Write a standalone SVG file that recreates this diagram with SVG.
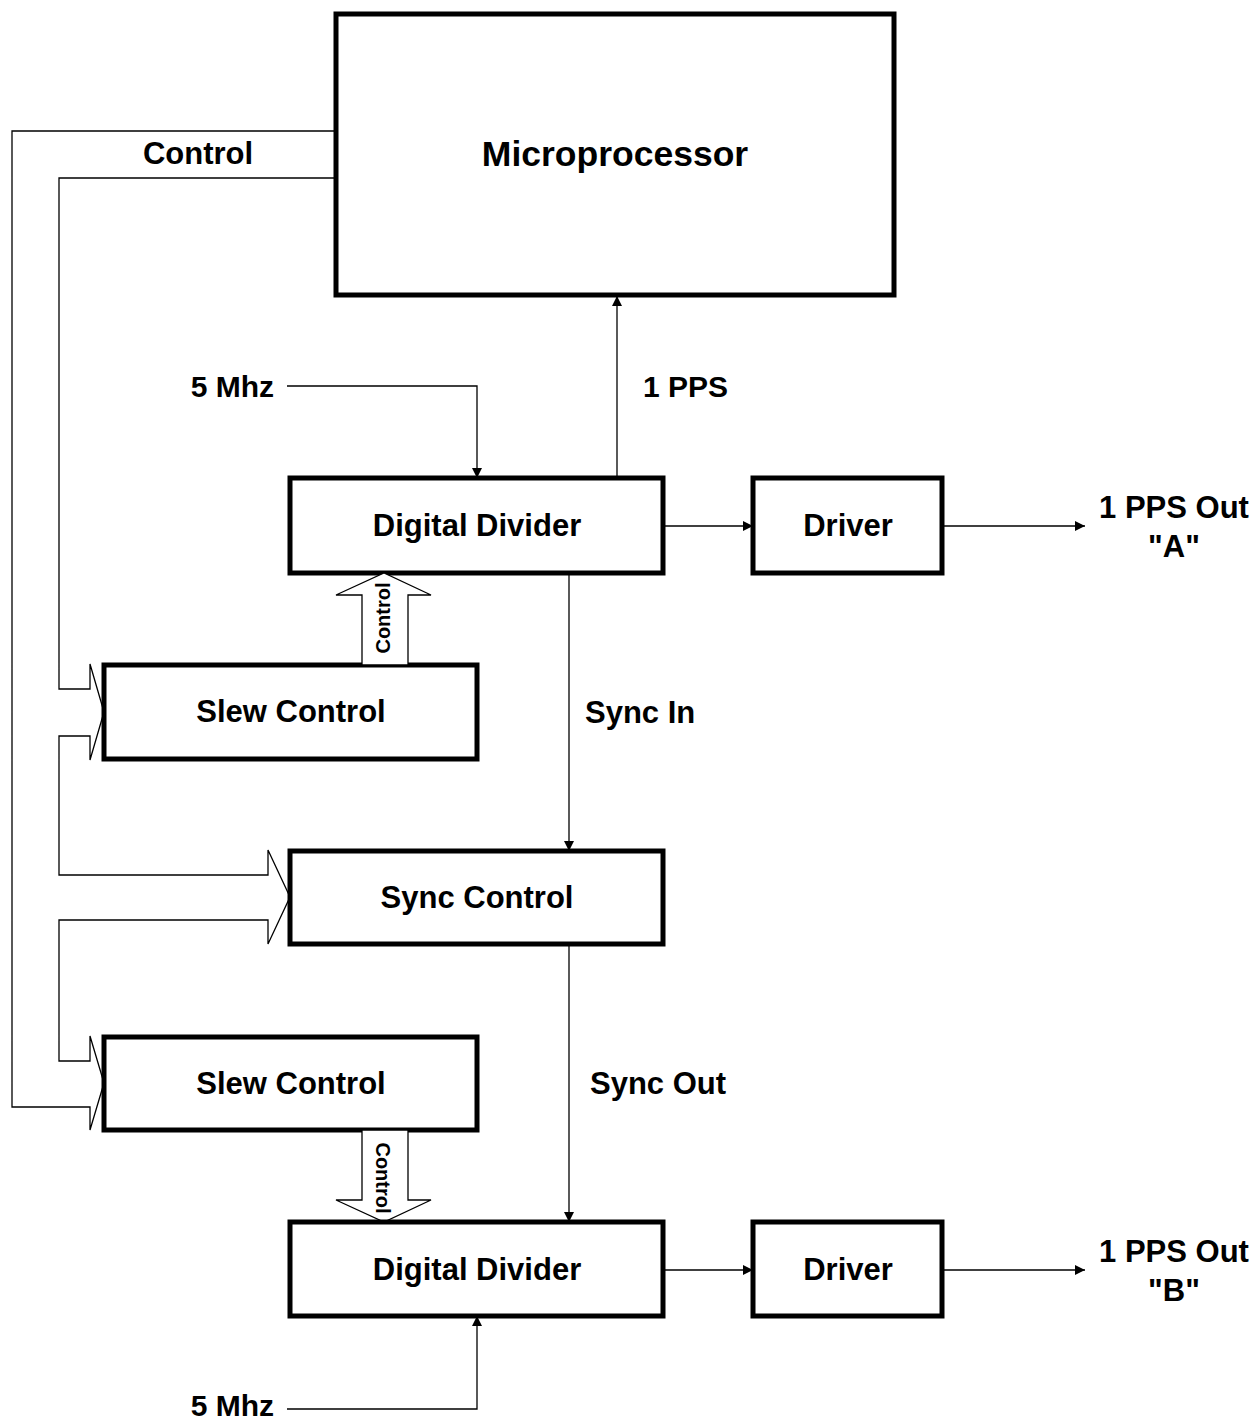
<svg xmlns="http://www.w3.org/2000/svg" width="1254" height="1422" viewBox="0 0 1254 1422">
<defs>
<style>
.box{fill:#fff;stroke:#000;stroke-width:5}
.ln{fill:none;stroke:#000;stroke-width:1.3}
.hol{fill:#fff;stroke:#000;stroke-width:1.3;stroke-linejoin:miter}
text{font-family:"Liberation Sans",Arial,sans-serif;font-weight:bold;fill:#000}
.lbl{font-size:31px}
.sm{font-size:30px}
.c{text-anchor:middle}
.r{text-anchor:end}
</style>
<marker id="ah" viewBox="0 0 10 10" refX="10" refY="5" markerWidth="10" markerHeight="10" markerUnits="userSpaceOnUse" orient="auto">
<path d="M0,0 L10,5 L0,10 Z" fill="#000"/>
</marker>
</defs>
<g id="connectors">
<polyline class="ln" points="335,178 59,178 59,689 90,689 90,664 104,712 90,760 90,736 59,736 59,875 268,875 268,850 290,897 268,944 268,920 59,920 59,1061 90,1061 90,1036 104,1083 90,1130 90,1107 12,1107 12,131 335,131"/>
<polyline class="ln" points="287,386 477,386 477,478" marker-end="url(#ah)"/>
<line class="ln" x1="617" y1="478" x2="617" y2="296" marker-end="url(#ah)"/>
<line class="ln" x1="663" y1="526" x2="753" y2="526" marker-end="url(#ah)"/>
<line class="ln" x1="942" y1="526" x2="1085" y2="526" marker-end="url(#ah)"/>
<line class="ln" x1="569" y1="573" x2="569" y2="851" marker-end="url(#ah)"/>
<line class="ln" x1="569" y1="944" x2="569" y2="1222" marker-end="url(#ah)"/>
<line class="ln" x1="663" y1="1270" x2="753" y2="1270" marker-end="url(#ah)"/>
<line class="ln" x1="942" y1="1270" x2="1085" y2="1270" marker-end="url(#ah)"/>
<polyline class="ln" points="287,1409 477,1409 477,1316" marker-end="url(#ah)"/>
</g>
<g id="microprocessor">
<rect class="box" x="336" y="14" width="558" height="281"/>
<text class="c" x="615" y="166" font-size="35.5">Microprocessor</text>
</g>
<g id="digital-divider-1">
<rect class="box" x="290" y="478" width="373" height="95"/>
<text class="lbl c" x="477" y="536">Digital Divider</text>
</g>
<g id="driver-1">
<rect class="box" x="753" y="478" width="189" height="95"/>
<text class="lbl c" x="848" y="536">Driver</text>
</g>
<g id="slew-control-1">
<rect class="box" x="104" y="665" width="373" height="94"/>
<text class="lbl c" x="291" y="722">Slew Control</text>
</g>
<g id="control-arrow-up">
<polygon class="hol" points="362,665 362,595 336,595 384,573 431,595 408,595 408,665"/>
<text transform="translate(383,618) rotate(-90)" text-anchor="middle" dy="7" font-size="20">Control</text>
</g>
<g id="sync-control">
<rect class="box" x="290" y="851" width="373" height="93"/>
<text class="lbl c" x="477" y="908">Sync Control</text>
</g>
<g id="slew-control-2">
<rect class="box" x="104" y="1037" width="373" height="93"/>
<text class="lbl c" x="291" y="1094">Slew Control</text>
</g>
<g id="control-arrow-down">
<polygon class="hol" points="362,1130 362,1200 336,1200 384,1222 431,1200 408,1200 408,1130"/>
<text transform="translate(383,1178) rotate(90)" text-anchor="middle" dy="7" font-size="20">Control</text>
</g>
<g id="digital-divider-2">
<rect class="box" x="290" y="1222" width="373" height="94"/>
<text class="lbl c" x="477" y="1280">Digital Divider</text>
</g>
<g id="driver-2">
<rect class="box" x="753" y="1222" width="189" height="94"/>
<text class="lbl c" x="848" y="1280">Driver</text>
</g>
<g id="labels">
<text class="lbl c" x="198" y="164">Control</text>
<text class="sm r" x="274" y="397">5 Mhz</text>
<text class="sm" x="643" y="397">1 PPS</text>
<text class="lbl c" x="1174" y="518">1 PPS Out</text>
<text class="lbl c" x="1174" y="557">"A"</text>
<text class="lbl" x="585" y="723">Sync In</text>
<text class="lbl" x="590" y="1094">Sync Out</text>
<text class="lbl c" x="1174" y="1262">1 PPS Out</text>
<text class="lbl c" x="1174" y="1301">"B"</text>
<text class="sm r" x="274" y="1416">5 Mhz</text>
</g>
</svg>
